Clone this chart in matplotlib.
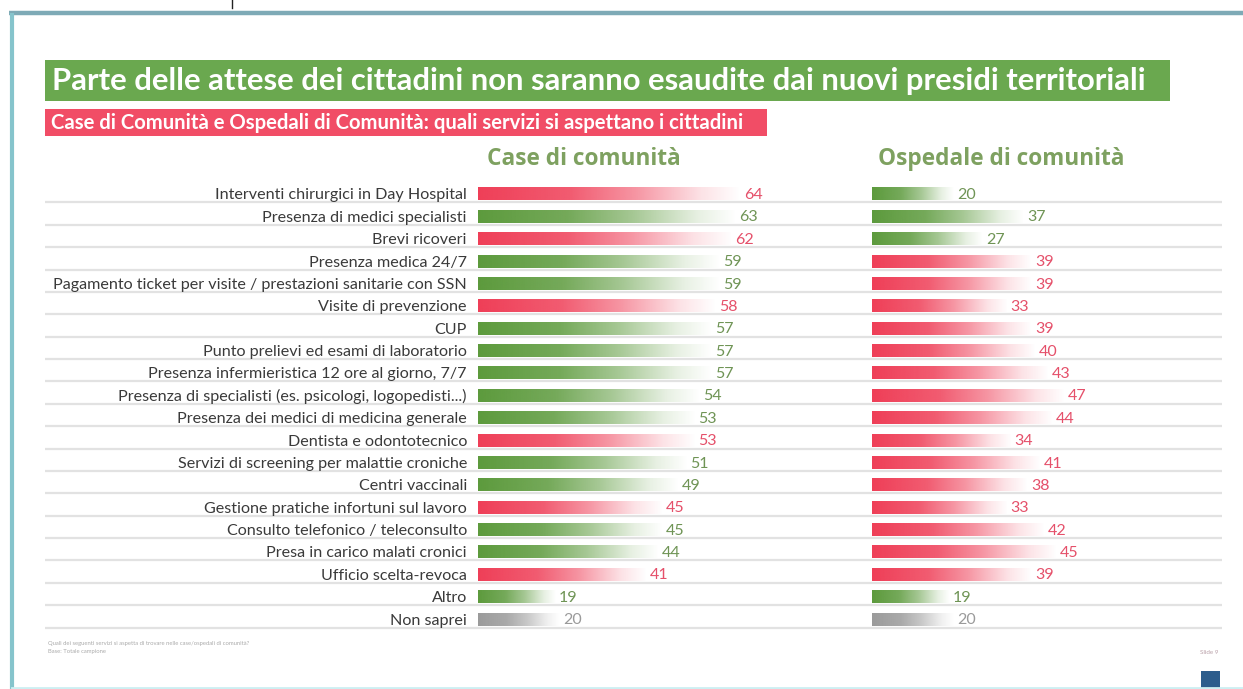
import numpy as np
import matplotlib
matplotlib.use("Agg")
import matplotlib.pyplot as plt
from matplotlib.patches import Rectangle
from matplotlib.colors import to_rgb

# ---------------- data ----------------
categories = [
    "Interventi chirurgici in Day Hospital",
    "Presenza di medici specialisti",
    "Brevi ricoveri",
    "Presenza medica 24/7",
    "Pagamento ticket per visite / prestazioni sanitarie con SSN",
    "Visite di prevenzione",
    "CUP",
    "Punto prelievi ed esami di laboratorio",
    "Presenza infermieristica 12 ore al giorno, 7/7",
    "Presenza di specialisti (es. psicologi, logopedisti...)",
    "Presenza dei medici di medicina generale",
    "Dentista e odontotecnico",
    "Servizi di screening per malattie croniche",
    "Centri vaccinali",
    "Gestione pratiche infortuni sul lavoro",
    "Consulto telefonico / teleconsulto",
    "Presa in carico malati cronici",
    "Ufficio scelta-revoca",
    "Altro",
    "Non saprei",
]
case_values = [64, 63, 62, 59, 59, 58, 57, 57, 57, 54, 53, 53, 51, 49, 45, 45, 44, 41, 19, 20]
case_kind = ["r", "g", "r", "g", "g", "r", "g", "g", "g", "g", "g", "r", "g", "g", "r", "g", "g", "r", "g", "n"]
osp_values = [20, 37, 27, 39, 39, 33, 39, 40, 43, 47, 44, 34, 41, 38, 33, 42, 45, 39, 19, 20]
osp_kind = ["g", "g", "g", "r", "r", "r", "r", "r", "r", "r", "r", "r", "r", "r", "r", "r", "r", "r", "g", "n"]

title = "Parte delle attese dei cittadini non saranno esaudite dai nuovi presidi territoriali"
subtitle = "Case di Comunità e Ospedali di Comunità: quali servizi si aspettano i cittadini"
headers = ["Case di comunità", "Ospedale di comunità"]
footer = ["Quali dei seguenti servizi si aspetta di trovare nelle case/ospedali di comunità?",
          "Base: Totale campione"]

bar_colors = {"r": "#ef3e57", "g": "#5c9a3c", "n": "#9a9a9a"}
label_colors = {"r": "#e5506a", "g": "#6f9455", "n": "#9a9a9a"}

plt.rcParams["font.family"] = ["Lato", "DejaVu Sans"]

W, H = 1243, 689
fig = plt.figure(figsize=(W / 100, H / 100), dpi=100)
fig.patch.set_facecolor("white")


def px_axes(x0, y0, x1, y1, z=1):
    a = fig.add_axes([x0 / W, 1 - y1 / H, (x1 - x0) / W, (y1 - y0) / H])
    a.set_zorder(z)
    a.patch.set_alpha(0)
    return a


# background / decoration axes (pixel coordinates)
bg = px_axes(0, 0, W, H, z=0)
bg.set_xlim(0, W)
bg.set_ylim(H, 0)
bg.axis("off")
bg.plot([9, W], [13, 13], color="#7eaab6", lw=3.2, solid_capstyle="butt")
bg.plot([12, 12], [13, H], color="#86c4cc", lw=3.0, solid_capstyle="butt")
bg.plot([12, W], [687.5, 687.5], color="#cdeff2", lw=2.0)
bg.plot([232, 232], [0, 8], color="#222222", lw=1.0)
bg.add_patch(Rectangle((45, 60), 1125, 41, color="#6aa84f", lw=0))
bg.text(52, 81, title, color="white", fontsize=22.3, fontweight="bold", va="center", ha="left")
bg.add_patch(Rectangle((45, 109), 722, 27, color="#f14d66", lw=0))
bg.text(51, 123, subtitle, color="white", fontsize=14.6, fontweight="bold", va="center", ha="left")
bg.text(48, 643, footer[0], color="#aaaaaa", fontsize=4.2, va="center", ha="left")
bg.text(48, 651, footer[1], color="#aaaaaa", fontsize=4.2, va="center", ha="left")
bg.text(1218, 652, "Slide 9", color="#b9a0a8", fontsize=4.5, va="center", ha="right")
bg.add_patch(Rectangle((1201, 671), 19, 18, color="#2d5d8c", lw=0))

n = len(categories)
ytop, ybot = 182.8, 630.2

# row separator lines
grid = px_axes(45, ytop, 1222, ybot, z=1)
grid.set_xlim(0, 1)
grid.set_ylim(n - 0.5, -0.5)
grid.axis("off")
for i in range(n):
    grid.axhline(i + 0.38, color="#e2e2e2", lw=1.6)

scale = 4.1  # px per unit


def gradient_bar(ax, y, v, kind, h=0.58):
    rgb = np.array(to_rgb(bar_colors[kind]))
    t = np.linspace(0, 1, 256)
    alpha = np.interp(t, [0, 0.35, 0.6, 0.85, 1.0], [1.0, 0.85, 0.55, 0.15, 0.0])
    img = np.zeros((1, 256, 4))
    img[0, :, :3] = rgb
    img[0, :, 3] = alpha
    ax.imshow(img, extent=(0, v, y + h / 2, y - h / 2), aspect="auto",
              interpolation="bilinear", zorder=3)


def panel(x0, values, kinds, header, hdr_dx, show_labels):
    ax = px_axes(x0, ytop, x0 + scale * 80, ybot, z=2)
    for i, (v, k) in enumerate(zip(values, kinds)):
        gradient_bar(ax, i, v, k)
        ax.text(v + 0.8, i + 0.05, str(v), va="center", ha="left", fontsize=11.5,
                color=label_colors[k], zorder=4)
    ax.set_xlim(0, 80)
    ax.set_ylim(n - 0.5, -0.5)
    for s in ax.spines.values():
        s.set_visible(False)
    ax.set_xticks([])
    ax.set_yticks(range(n))
    if show_labels:
        ax.set_yticklabels(categories, fontsize=11.6, color="#3a3a3a")
        ax.tick_params(axis="y", length=0, pad=8)
    else:
        ax.set_yticklabels([])
        ax.tick_params(axis="y", length=0)
    ax.text(hdr_dx, -1.55, header, fontsize=16.3, fontweight="bold", color="#7ea160",
            va="center", ha="left", family=["Open Sans", "DejaVu Sans"])
    return ax


panel(478, case_values, case_kind, headers[0], 2.2, True)
panel(872, osp_values, osp_kind, headers[1], 1.5, False)

fig.savefig("out.png", dpi=100, facecolor="white")
